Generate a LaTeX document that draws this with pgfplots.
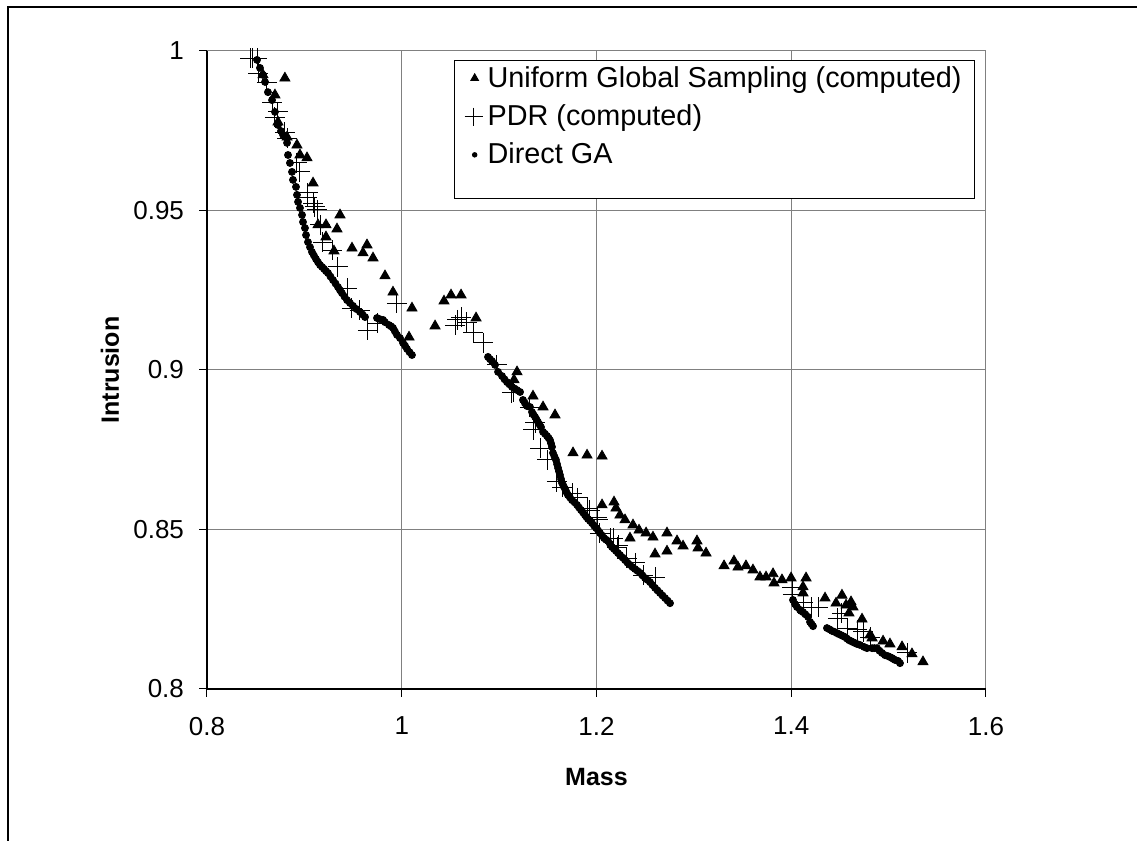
\documentclass[border=0pt]{standalone}
\usepackage{fontspec}
\setmainfont{Liberation Sans}
\usepackage{pgfplots}
\pgfplotsset{compat=1.18}
\definecolor{gridgray}{RGB}{128,128,128}

\begin{document}
\begin{tikzpicture}
\useasboundingbox (0,0) rectangle (568.5pt,420.5pt);
% outer chart frame (left and top edges visible)
\draw[line width=0.7pt] (4pt,0pt) -- (4pt,417pt) -- (568.5pt,417pt);
\begin{axis}[
    at={(103.5pt,76pt)}, anchor=south west,
    scale only axis,
    width=389.5pt, height=319pt,
    xmin=0.8, xmax=1.6, ymin=0.8, ymax=1,
    xtick={0.8,1,1.2,1.4,1.6},
    ytick={0.8,0.85,0.9,0.95,1},
    axis lines*=left,
    axis line style={-, black, line width=0.6pt},
    tick align=outside,
    major tick length=4pt,
    tick style={black, line width=0.5pt},
    grid=major,
    major grid style={gridgray, line width=0.5pt},
    tick label style={font=\fontsize{13}{15}\selectfont},
    xticklabel style={yshift=-6.5pt},
    yticklabel style={xshift=-4pt},
    /pgf/number format/assume math mode=true,
    xlabel={\textbf{Mass}},
    ylabel={\textbf{Intrusion}},
    label style={font=\fontsize{12.5}{14}\selectfont},
    xlabel style={at={(axis description cs:0.5,-0.138)}, anchor=center},
    ylabel style={at={(axis description cs:-0.1245,0.5)}, anchor=center},
    legend style={at={(axis cs:1.5887,0.9972)}, anchor=north east,
        draw=black, line width=0.5pt, fill=white,
        font=\fontsize{14.4}{16}\selectfont,
        nodes={inner sep=2pt},
        cells={anchor=base west},
        row sep=3.2pt, inner xsep=4.5pt, inner ysep=1pt},
]
% Uniform Global Sampling (computed)
\addplot[only marks, mark=triangle*, mark size=2.9pt, black,
    legend image code/.code={\path[draw=none] (0pt,0pt) -- (10pt,0pt);
        \draw[mark=triangle*, mark size=2.2pt, black] plot coordinates {(5.5pt,4.5pt)};}]
coordinates {
(0.8575,0.9925) (0.8800,0.9915) (0.8698,0.9862) (0.8729,0.9777) (0.8822,0.9730)
(0.8924,0.9705) (0.8955,0.9674) (0.9027,0.9665) (0.9089,0.9586) (0.9366,0.9486)
(0.9140,0.9455) (0.9222,0.9455) (0.9335,0.9442) (0.9222,0.9417) (0.9304,0.9373)
(0.9489,0.9382) (0.9643,0.9392) (0.9602,0.9367) (0.9705,0.9351) (0.9828,0.9295)
(0.9910,0.9244) (1.0105,0.9194) (1.0075,0.9103) (1.0342,0.9138) (1.0434,0.9216)
(1.0506,0.9235) (1.0609,0.9235) (1.0763,0.9163) (1.1184,0.8994) (1.1153,0.8969)
(1.1348,0.8918) (1.1451,0.8884) (1.1574,0.8859) (1.1759,0.8740) (1.1903,0.8733)
(1.2057,0.8730) (1.2057,0.8577) (1.2180,0.8586) (1.2200,0.8567) (1.2241,0.8545)
(1.2293,0.8530) (1.2375,0.8514) (1.2437,0.8498) (1.2509,0.8489) (1.2580,0.8476)
(1.2724,0.8489) (1.2344,0.8473) (1.2827,0.8464) (1.2889,0.8448) (1.3032,0.8464)
(1.3043,0.8442) (1.3125,0.8426) (1.2601,0.8423) (1.2724,0.8432) (1.3310,0.8386)
(1.3412,0.8401) (1.3453,0.8382) (1.3535,0.8386) (1.3607,0.8373) (1.3679,0.8351)
(1.3741,0.8351) (1.3813,0.8361) (1.3823,0.8332) (1.3905,0.8342) (1.3998,0.8348)
(1.4152,0.8348) (1.4121,0.8320) (1.4121,0.8301) (1.4347,0.8285) (1.4521,0.8294)
(1.4460,0.8269) (1.4563,0.8263) (1.4614,0.8273) (1.4634,0.8257) (1.4593,0.8238)
(1.4727,0.8219) (1.4809,0.8169) (1.4830,0.8160) (1.4943,0.8150) (1.5014,0.8141)
(1.5138,0.8132) (1.5240,0.8110) (1.5353,0.8085)
};
\addlegendentry{Uniform Global Sampling (computed)}
% PDR (computed)
\addplot[only marks, mark=+, mark size=5pt, black, line width=0.5pt,
    legend image code/.code={\path[draw=none] (0pt,0pt) -- (10pt,0pt);
        \draw[mark=+, mark size=4.5pt, black, line width=0.5pt] plot coordinates {(5pt,4.5pt)};}]
coordinates {
(0.8442,0.9978) (0.8472,0.9978) (0.8514,0.9978) (0.8524,0.9931) (0.8616,0.9900)
(0.8668,0.9840) (0.8698,0.9793) (0.8729,0.9809) (0.8801,0.9746) (0.8822,0.9727)
(0.8924,0.9649) (0.8955,0.9621) (0.9037,0.9555) (0.9027,0.9542) (0.9089,0.9523)
(0.9109,0.9511) (0.9130,0.9502) (0.9161,0.9455) (0.9191,0.9401) (0.9284,0.9376)
(0.9345,0.9323) (0.9438,0.9257) (0.9489,0.9194) (0.9571,0.9188) (0.9653,0.9125)
(0.9756,0.9147) (0.9951,0.9210) (1.0568,0.9157) (1.0609,0.9166) (1.0547,0.9141)
(1.0670,0.9150) (1.0732,0.9116) (1.0835,0.9085) (1.0978,0.9016) (1.1143,0.8931)
(1.1317,0.8884) (1.1369,0.8834) (1.1132,0.8928) (1.1348,0.8812) (1.1420,0.8755)
(1.1492,0.8718) (1.1594,0.8649) (1.1646,0.8633) (1.1749,0.8614) (1.1810,0.8599)
(1.1903,0.8567) (1.2006,0.8539) (1.2036,0.8489) (1.2170,0.8473) (1.2221,0.8451)
(1.1933,0.8561) (1.2015,0.8530) (1.2139,0.8473) (1.2211,0.8445) (1.2313,0.8410)
(1.2396,0.8395) (1.2478,0.8357) (1.2601,0.8351) (1.4008,0.8317) (1.4018,0.8295)
(1.4121,0.8270) (1.4213,0.8257) (1.4275,0.8257) (1.4480,0.8222) (1.4521,0.8238)
(1.4573,0.8191) (1.4676,0.8185) (1.4737,0.8179) (1.4809,0.8163) (1.5189,0.8113)
};
\addlegendentry{PDR (computed)}
% Direct GA
\addplot[only marks, mark=*, mark size=1.75pt, black,
    legend image code/.code={\path[draw=none] (0pt,0pt) -- (10pt,0pt);
        \draw[mark=*, mark size=1.1pt, black] plot coordinates {(5.5pt,4.5pt)};}]
coordinates {
(0.8514,0.9972) (0.8544,0.9947) (0.8575,0.9925) (0.8596,0.9903) (0.8626,0.9871)
(0.8668,0.9846) (0.8698,0.9809) (0.8729,0.9768) (0.8760,0.9749) (0.8781,0.9737)
(0.8822,0.9712) (0.8832,0.9674) (0.8852,0.9649) (0.8873,0.9621) (0.8883,0.9596)
(0.8914,0.9574) (0.8924,0.9549) (0.8935,0.9527) (0.8955,0.9508) (0.8976,0.9486)
(0.8986,0.9464) (0.9006,0.9445) (0.9017,0.9423) (0.9037,0.9401) (0.9078,0.9370)
(0.9119,0.9348) (0.9161,0.9329) (0.9202,0.9317) (0.9243,0.9304) (0.9294,0.9282)
(0.9345,0.9260) (0.9386,0.9241) (0.9438,0.9219) (0.9499,0.9201) (0.9571,0.9182)
(0.9623,0.9166) (0.9746,0.9163) (0.9808,0.9157) (0.9828,0.9150) (0.9869,0.9141)
(0.9910,0.9132) (0.9951,0.9110) (0.9982,0.9100) (1.0013,0.9085) (1.0054,0.9066)
(1.0105,0.9047)
(0.9058,0.9385) (0.9098,0.9359) (0.9140,0.9338) (0.9182,0.9323) (0.9222,0.9310)
(0.9268,0.9293) (0.9320,0.9271) (0.9366,0.9250) (0.9412,0.9230) (0.9468,0.9210)
(0.9535,0.9191) (0.9597,0.9174) (0.9770,0.9160) (0.9890,0.9137) (0.9930,0.9121)
(1.0034,0.9076) (1.0080,0.9056)
(1.0886,0.9041) (1.0927,0.9028) (1.0958,0.9016) (1.0989,0.8994) (1.1030,0.8981)
(1.1081,0.8962) (1.1132,0.8947) (1.1184,0.8937) (1.1215,0.8931) (1.1245,0.8906)
(1.1286,0.8887) (1.1317,0.8884) (1.1338,0.8868) (1.1369,0.8853) (1.1399,0.8837)
(1.1430,0.8821) (1.1451,0.8806) (1.1492,0.8793) (1.1523,0.8780) (1.1543,0.8759)
(1.1553,0.8740) (1.1584,0.8718) (1.1605,0.8693) (1.1625,0.8671) (1.1646,0.8646)
(1.1677,0.8627) (1.1707,0.8608) (1.1749,0.8592) (1.1800,0.8577) (1.1841,0.8561)
(1.1882,0.8545) (1.1913,0.8533) (1.1954,0.8520) (1.1995,0.8505) (1.2036,0.8489)
(1.2077,0.8473) (1.2118,0.8464) (1.2159,0.8445) (1.2200,0.8433) (1.2242,0.8420)
(1.2293,0.8404) (1.2344,0.8389) (1.2396,0.8376) (1.2447,0.8364) (1.2498,0.8348)
(1.2550,0.8335) (1.2601,0.8317) (1.2652,0.8301) (1.2704,0.8285) (1.2755,0.8269)
(1.0906,0.9034) (1.1055,0.8971) (1.1106,0.8955) (1.1158,0.8942) (1.1265,0.8896)
(1.1353,0.8860) (1.1384,0.8845) (1.1415,0.8829) (1.1471,0.8800) (1.1508,0.8787)
(1.1533,0.8770) (1.1568,0.8729) (1.1595,0.8705) (1.1615,0.8682) (1.1636,0.8658)
(1.1662,0.8636) (1.1692,0.8617) (1.1728,0.8600) (1.1775,0.8585) (1.1820,0.8569)
(1.1862,0.8553) (1.1898,0.8539) (1.1934,0.8527) (1.1975,0.8512) (1.2016,0.8497)
(1.2057,0.8481) (1.2098,0.8468) (1.2138,0.8455) (1.2180,0.8439) (1.2221,0.8426)
(1.2268,0.8412) (1.2318,0.8396) (1.2370,0.8382) (1.2422,0.8370) (1.2472,0.8356)
(1.2524,0.8342) (1.2575,0.8326) (1.2626,0.8309) (1.2678,0.8293) (1.2730,0.8277)
(1.4018,0.8279) (1.4039,0.8266) (1.4059,0.8257) (1.4090,0.8248) (1.4121,0.8241)
(1.4173,0.8226) (1.4193,0.8210) (1.4224,0.8197) (1.4367,0.8191) (1.4419,0.8182)
(1.4470,0.8175) (1.4511,0.8169) (1.4552,0.8163) (1.4593,0.8153) (1.4634,0.8147)
(1.4676,0.8141) (1.4706,0.8138) (1.4747,0.8132) (1.4778,0.8128) (1.4830,0.8128)
(1.4881,0.8128) (1.4932,0.8113) (1.4963,0.8106) (1.4994,0.8103) (1.5035,0.8097)
(1.5066,0.8091) (1.5097,0.8088) (1.5117,0.8081)
(1.4100,0.8245) (1.4145,0.8234) (1.4208,0.8204) (1.4393,0.8187) (1.4445,0.8179)
(1.4490,0.8172) (1.4531,0.8166) (1.4572,0.8158) (1.4614,0.8150) (1.4655,0.8144)
(1.4855,0.8128) (1.4906,0.8120) (1.5015,0.8100) (1.5050,0.8094)
};
\addlegendentry{Direct GA}
% spare room at the foot of the legend box
\addlegendimage{empty legend}
\addlegendentry{\rule{0pt}{4pt}}
\end{axis}
\end{tikzpicture}
\end{document}
